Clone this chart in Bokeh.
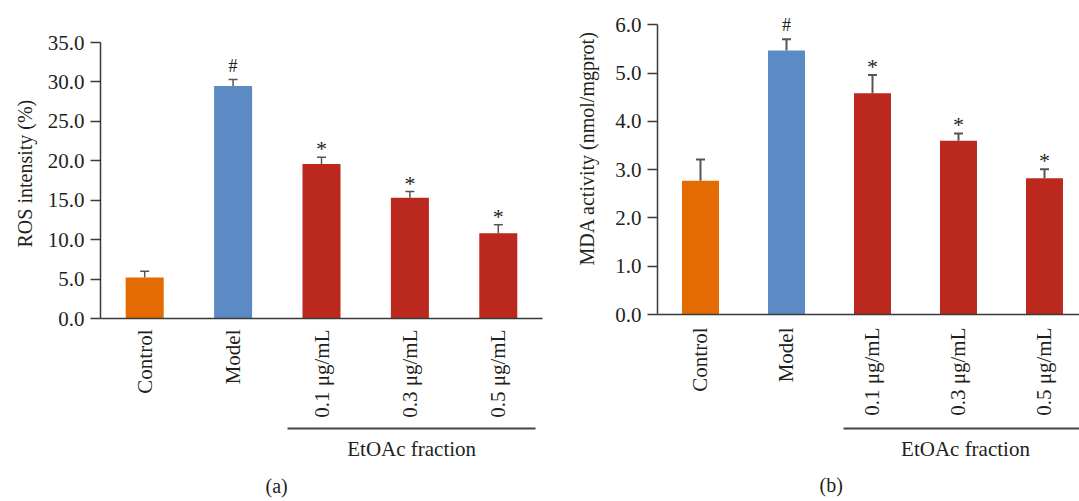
import math
from bokeh.plotting import figure
from bokeh.models import (Range1d, FixedTicker, NumeralTickFormatter, LinearAxis,
                          Whisker, TeeHead, ColumnDataSource, Title)
from bokeh.layouts import row
from bokeh.embed import file_html
from bokeh.resources import INLINE
from bokeh.core.properties import value

# ---------------- data ----------------
categories = ["Control", "Model", "0.1 μg/mL", "0.3 μg/mL", "0.5 μg/mL"]
group_members = ["0.1 μg/mL", "0.3 μg/mL", "0.5 μg/mL"]
group_label = "EtOAc fraction"
bar_colors = ["#e46a02", "#5b8ac5", "#bb281d", "#bb281d", "#bb281d"]

ros_mean = [5.2, 29.5, 19.6, 15.3, 10.8]
ros_err = [0.8, 0.8, 0.85, 0.8, 1.1]
ros_marks = ["", "#", "*", "*", "*"]
ros_ticks = [0, 5, 10, 15, 20, 25, 30, 35]
ros_title = "ROS intensity (%)"

mda_mean = [2.77, 5.47, 4.58, 3.60, 2.82]
mda_err = [0.44, 0.23, 0.38, 0.15, 0.19]
mda_marks = ["", "#", "*", "*", "*"]
mda_ticks = [0, 1, 2, 3, 4, 5, 6]
mda_title = "MDA activity (nmol/mgprot)"

FONT = "Liberation Serif"
TXT = "#231f20"
AX = "#3a3a3a"


def make_panel(mean, err, marks, ticks, ylabel, panel_label, fw, fh,
               b_left, b_right, b_top, b_bottom, x_end, y_end,
               x_standoff, pad_font, bracket_pad_l, bracket_pad_r, title_offset,
               title_standoff, ylab_offset, ylab_standoff, line_w):
    pos = [i + 0.5 for i in range(len(categories))]
    upper = [m + e for m, e in zip(mean, err)]
    src = ColumnDataSource(dict(x=pos, mean=mean, upper=upper, color=bar_colors,
                                mark=marks))
    p = figure(frame_width=fw, frame_height=fh, output_backend="svg", toolbar_location=None,
               x_range=Range1d(0, x_end), y_range=Range1d(0, y_end), title=None,
               min_border_left=b_left, min_border_right=b_right,
               min_border_top=b_top, min_border_bottom=b_bottom)
    p.outline_line_color = None
    p.grid.visible = False
    p.background_fill_color = "white"
    p.border_fill_color = "white"

    p.vbar(x="x", top="mean", bottom=0, width=0.43, fill_color="color",
           line_color=None, source=src)
    w = Whisker(source=src, base="x", lower="mean", upper="upper", dimension="height",
                line_color="#555555", line_width=line_w,
                upper_head=TeeHead(size=9, line_color="#555555", line_width=line_w),
                lower_head=None)
    p.add_layout(w)

    hx = [pos[i] for i, m in enumerate(marks) if m == "#"]
    hy = [upper[i] for i, m in enumerate(marks) if m == "#"]
    sx = [pos[i] for i, m in enumerate(marks) if m == "*"]
    sy = [upper[i] for i, m in enumerate(marks) if m == "*"]
    p.text(x=hx, y=hy, text=["#"] * len(hx), text_align="center", text_baseline="bottom",
           y_offset=-4, text_font=value(FONT), text_font_size="18px", text_color=TXT)
    p.text(x=sx, y=sy, text=["*"] * len(sx), text_align="center", text_baseline="bottom",
           y_offset=4, text_font=value(FONT), text_font_size="22px", text_color=TXT)

    # y axis
    ya = p.yaxis[0]
    ya.ticker = FixedTicker(ticks=ticks)
    ya.formatter = NumeralTickFormatter(format="0.0")
    ya.bounds = (ticks[0], ticks[-1])
    ya.major_label_text_font = FONT
    ya.major_label_text_font_size = "21px"
    ya.major_label_text_color = TXT
    ya.major_label_standoff = 6
    ya.major_tick_out = 10
    ya.major_tick_in = 0
    ya.minor_tick_line_color = None
    ya.axis_line_color = AX
    ya.major_tick_line_color = AX
    ya.axis_line_width = 1.5
    ya.major_tick_line_width = 1.5
    # y-axis title, placed beside the axis
    yt = Title(text=ylabel, align="left", offset=ylab_offset, standoff=ylab_standoff,
               text_font=FONT, text_font_size="20px", text_font_style="normal",
               text_color=TXT)
    p.add_layout(yt, "left")

    # x axis with category labels
    xa = p.xaxis[0]
    xa.ticker = FixedTicker(ticks=pos)
    xa.major_label_overrides = {x: c for x, c in zip(pos, categories)}
    xa.major_label_orientation = math.pi / 2
    xa.major_label_text_font = FONT
    xa.major_label_text_font_size = "21px"
    xa.major_label_text_color = TXT
    xa.major_label_standoff = x_standoff
    xa.major_tick_line_color = None
    xa.major_tick_out = 0
    xa.major_tick_in = 0
    xa.minor_tick_line_color = None
    xa.axis_line_color = AX
    xa.axis_line_width = 1.5
    xa.axis_label = " "
    xa.axis_label_text_font_size = pad_font
    xa.axis_label_standoff = 1

    # group bracket: an axis whose line is bounded to the group's span
    gp = [pos[categories.index(c)] for c in group_members]
    b0, b1 = min(gp) - bracket_pad_l, max(gp) + bracket_pad_r
    center = (b0 + b1) / 2
    ga = LinearAxis(ticker=FixedTicker(ticks=[center]),
                    major_label_overrides={center: group_label},
                    bounds=(b0, min(b1, x_end)))
    ga.axis_line_color = "#444444"
    ga.axis_line_width = 2
    ga.major_tick_line_color = None
    ga.minor_tick_line_color = None
    ga.major_tick_out = 0
    ga.major_tick_in = 0
    ga.major_label_standoff = 8
    ga.major_label_text_font = FONT
    ga.major_label_text_font_size = "21px"
    ga.major_label_text_color = TXT
    p.add_layout(ga, "below")

    t = Title(text=panel_label, align="left", offset=title_offset, standoff=title_standoff,
              text_font=FONT, text_font_size="20px", text_font_style="normal",
              text_color=TXT)
    p.add_layout(t, "below")
    return p


p1 = make_panel(ros_mean, ros_err, ros_marks, ros_ticks, ros_title, "(a)",
                fw=442, fh=302, b_left=100, b_right=15, b_top=16, b_bottom=183,
                x_end=5.0, y_end=38.3, x_standoff=11, pad_font="3px",
                bracket_pad_l=0.38, bracket_pad_r=0.42, title_offset=165,
                title_standoff=18, ylab_offset=71, ylab_standoff=18, line_w=1.5)
p2 = make_panel(mda_mean, mda_err, mda_marks, mda_ticks, mda_title, "(b)",
                fw=422, fh=298, b_left=100, b_right=0, b_top=16, b_bottom=187,
                x_end=4.907, y_end=6.172, x_standoff=13, pad_font="6px",
                bracket_pad_l=0.337, bracket_pad_r=0.5, title_offset=162,
                title_standoff=17, ylab_offset=49, ylab_standoff=30, line_w=2)

layout = row(p1, p2, spacing=0)
open("out.html", "w").write(file_html(layout, INLINE))
